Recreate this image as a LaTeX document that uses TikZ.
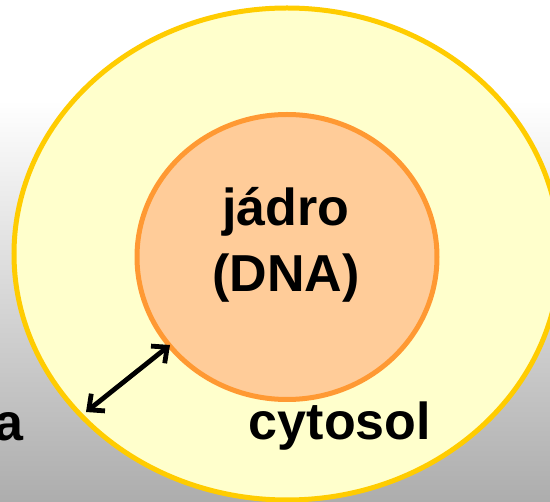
\documentclass[tikz,border=0pt]{standalone}
\usepackage{fontspec}
\setmainfont{Liberation Sans}
\usetikzlibrary{arrows.meta}

\definecolor{cellfill}{HTML}{FFFFCC}
\definecolor{cellline}{HTML}{FFCC00}
\definecolor{nucfill}{HTML}{FFCC99}
\definecolor{nucline}{HTML}{FF9933}
\definecolor{bgbottom}{HTML}{ADADAD}

\tikzset{
  textlabel/.style={font=\fontsize{52}{66}\selectfont\bfseries, inner sep=0pt},
  membrane/.style={line width=5pt},
  exchange/.style={line width=4.8pt, {Straight Barb[length=12pt,width=22pt]}-{Straight Barb[length=12pt,width=22pt]}}
}

\begin{document}
\begin{tikzpicture}[x=1pt, y=-1pt]
  \useasboundingbox (0,0) rectangle (550,502);
  \clip (0,0) rectangle (550,502);

  % background: white at the top, fading to grey below
  \fill[white] (0,0) rectangle (550,101);
  \shade[top color=white, bottom color=bgbottom] (0,100) rectangle (550,502);

  % cell and nucleus
  \draw[membrane, draw=cellline, fill=cellfill] (287,254) ellipse [x radius=273, y radius=246];
  \draw[membrane, draw=nucline, fill=nucfill] (287,257) ellipse [x radius=150, y radius=142.5];

  % labels
  \node[textlabel, anchor=base] (jadro) at (286,226) {jádro};
  \node[textlabel, anchor=base] (dna) at (286,292) {(DNA)};
  \node[textlabel, anchor=base] (cytosol) at (340,440) {cytosol};
  \node[textlabel, anchor=base east] (lefta) at (24,441) {a};

  % exchange between nucleus and cell membrane
  \coordinate (nucedge) at (170,345);
  \coordinate (celledge) at (86,412);
  \draw[exchange] (celledge) -- (nucedge);
\end{tikzpicture}
\end{document}
